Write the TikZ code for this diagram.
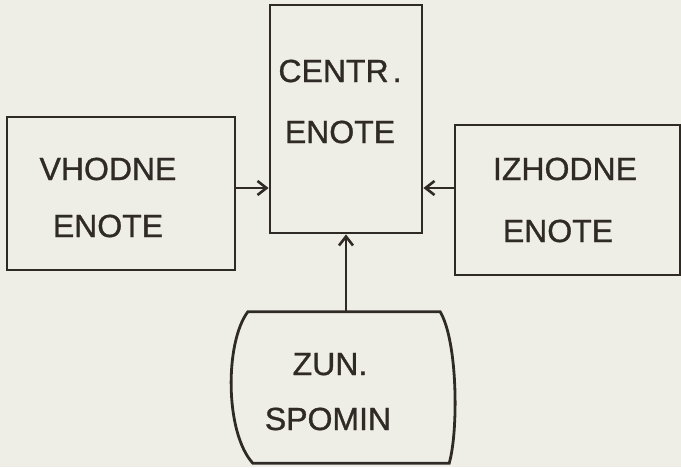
\documentclass[tikz,border=0pt]{standalone}
\usepackage{fontspec}
\setmainfont{Liberation Sans}
\newfontfamily\dg{Liberation Sans}[FakeBold=1.0]
\usetikzlibrary{arrows.meta,calc}
\definecolor{paper}{RGB}{238,238,231}
\definecolor{ink}{RGB}{48,42,38}
\begin{document}
\begin{tikzpicture}[x=1pt,y=1pt,
  box/.style={draw=ink,line width=2.8pt,minimum width=#1,inner sep=0pt,rectangle},
  lbl/.style={anchor=base,text=ink,inner sep=0pt,font=\dg\fontsize{32}{38}\selectfont},
  arr/.style={draw=ink,line width=2.6pt,-{Straight Barb[length=9pt,width=14pt,line width=2.6pt]}}]
\fill[paper] (0,0) rectangle (681,-467);
\useasboundingbox (0,0) rectangle (681,-467);
% boxes
\node[box=228pt,minimum height=153pt] (vh) at (121,-193.5) {};
\node[box=152pt,minimum height=228pt] (ce) at (346,-119) {};
\node[box=225pt,minimum height=150pt] (iz) at (567.5,-200) {};
\node[inner sep=0pt,minimum width=200pt,minimum height=151pt] (zun) at (346,-387.5) {};
\draw[ink,line width=2.8pt]
  ($(zun.north west)+(2,0)$) -- ($(zun.north east)+(-6,0)$)
  .. controls ($(zun.east)+(12,45)$) and ($(zun.east)+(12,-45)$) .. ($(zun.south east)+(3,0)$)
  -- ($(zun.south west)+(7,0)$)
  .. controls ($(zun.west)+(-21,-45)$) and ($(zun.west)+(-21,45)$) .. cycle;
% labels
\node[lbl] (vt1) at (108,-180) {VHODNE};
\node[lbl] (vt2) at (108,-237) {ENOTE};
\node[lbl] (ct1) at (340,-82) {CENTR\hspace{4pt}.};
\node[lbl] (ct2) at (340,-143) {ENOTE};
\node[lbl] (it1) at (565,-180) {IZHODNE};
\node[lbl] (it2) at (558,-242) {ENOTE};
\node[lbl] (zt1) at (330,-375) {ZUN.};
\node[lbl] (zt2) at (328,-430) {SPOMIN};
% connectors
\coordinate (a1) at ($(vh.east)+(0,5.5)$);
\coordinate (a2) at ($(iz.west)+(0,12)$);
\draw[arr] (a1) -- (a1 -| ce.west);
\draw[arr] (a2) -- (a2 -| ce.east);
\draw[arr] (zun.north) -- (zun.north |- ce.south);
\end{tikzpicture}
\end{document}
